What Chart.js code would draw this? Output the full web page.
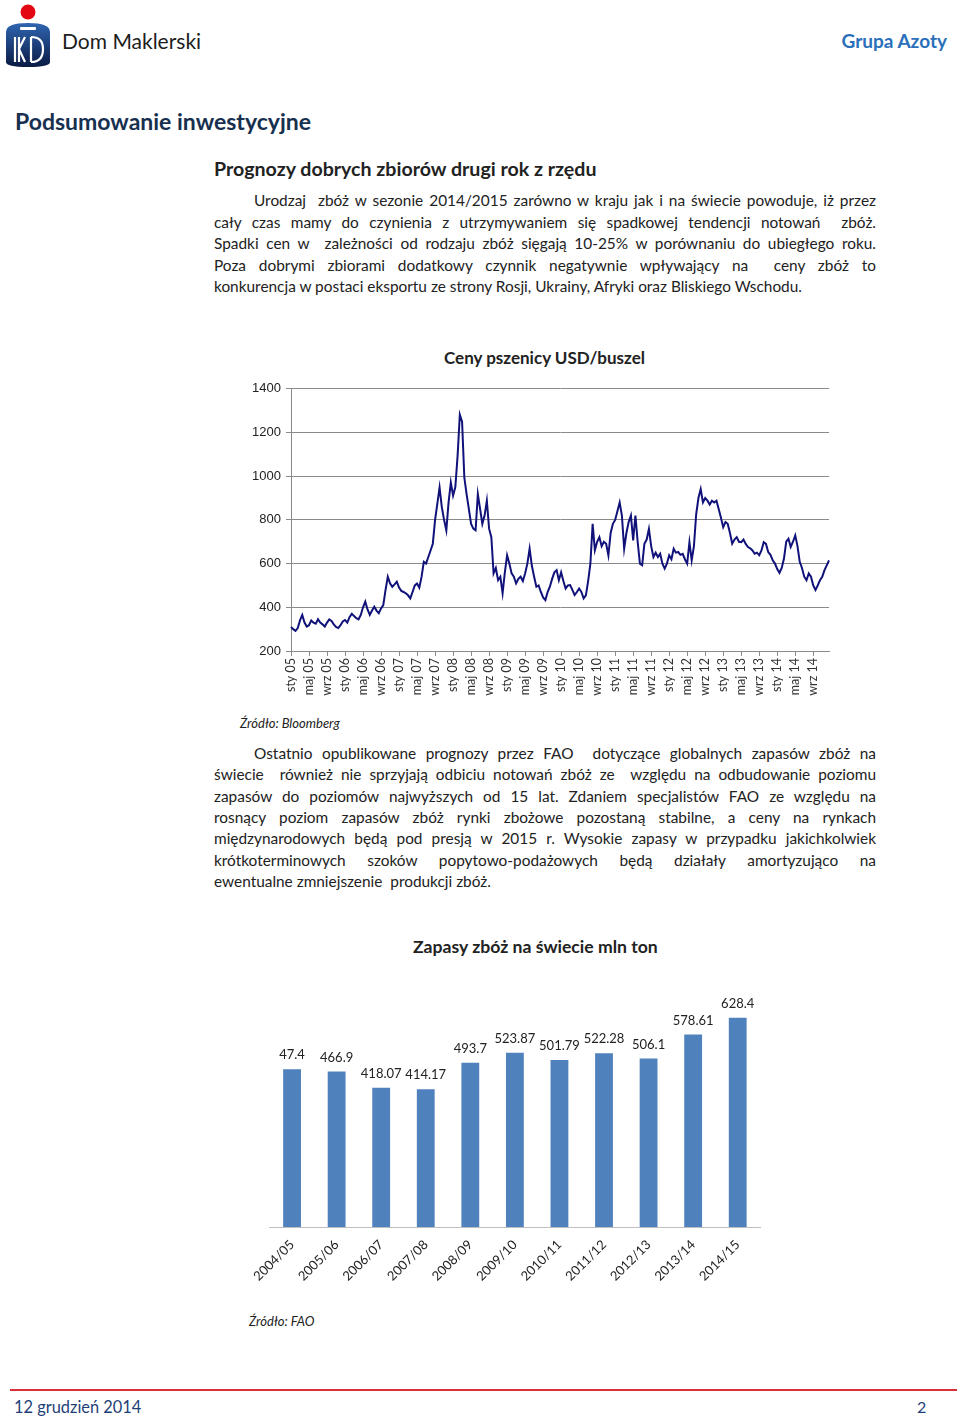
<!DOCTYPE html>
<html lang="pl">
<head>
<meta charset="utf-8">
<script src="https://cdn.jsdelivr.net/npm/chart.js@4.4.1/dist/chart.umd.min.js"></script>
<style>
  html, body { margin: 0; padding: 0; background: #fff; }
  body { width: 960px; height: 1419px; position: relative; overflow: hidden; font-family: Lato, "Open Sans", sans-serif; color: #222; }
  .abs { position: absolute; white-space: nowrap; }
  .para { position: absolute; left: 214px; width: 662px; font-size: 15.4px; line-height: 21.6px; color: #222; }
  .para div { text-align: justify; text-align-last: justify; white-space: nowrap; }
  .para div.first { padding-left: 40px; }
  .para div.last { text-align-last: left; }
  canvas { position: absolute; }
</style>
</head>
<body>

<!-- ─── HEADER ─────────────────────────────────────────────── -->
<svg class="abs" style="left:3px;top:2px" width="50" height="68" viewBox="0 0 50 68">
  <defs>
    <linearGradient id="pko" x1="0" y1="0" x2="0" y2="1">
      <stop offset="0" stop-color="#2f65b0"/>
      <stop offset="1" stop-color="#0a1a44"/>
    </linearGradient>
  </defs>
  <circle cx="25" cy="10" r="7.5" fill="#e30613"/>
  <path d="M3 30 Q3 21 25 21 Q47 21 47 30 L47 60 Q47 65 25 65 Q3 65 3 60 Z" fill="url(#pko)"/>
  <rect x="17" y="25" width="16" height="3" rx="1" fill="#fff"/>
  <path d="M12 35 L12 60 M16 35 L16 60 M16 47 L22 35 M16 47 L22 60 M28 35 L28 60 M28 35 Q40 35 40 47 Q40 60 28 60"
        stroke="#fff" stroke-width="2.2" fill="none"/>
</svg>
<div class="abs" style="left:62px;top:26px;font-family:Lato,sans-serif;font-size:21px;line-height:30px;color:#1d1d1d;">Dom Maklerski</div>
<div class="abs" style="right:13px;top:29px;font-family:Lato,sans-serif;font-weight:bold;font-size:19px;line-height:24px;color:#2a6fba;">Grupa Azoty</div>

<div class="abs" style="left:15px;top:107px;font-family:Lato,sans-serif;font-weight:bold;font-size:23px;line-height:28px;color:#17304f;">Podsumowanie inwestycyjne</div>
<div class="abs" style="left:214px;top:157px;font-family:Lato,sans-serif;font-weight:bold;font-size:19.6px;line-height:24px;color:#222;">Prognozy dobrych zbiorów drugi rok z rzędu</div>

<div class="para" style="top:190px;">
  <div class="first">Urodzaj&nbsp; zbóż w sezonie 2014/2015 zarówno w kraju jak i na świecie powoduje, iż przez</div>
  <div>cały czas mamy do czynienia z utrzymywaniem się spadkowej tendencji notowań&nbsp; zbóż.</div>
  <div>Spadki cen w&nbsp; zależności od rodzaju zbóż sięgają 10-25% w porównaniu do ubiegłego roku.</div>
  <div>Poza dobrymi zbiorami dodatkowy czynnik negatywnie wpływający na&nbsp; ceny zbóż to</div>
  <div class="last">konkurencja w postaci eksportu ze strony Rosji, Ukrainy, Afryki oraz Bliskiego Wschodu.</div>
</div>

<!-- ─── LINE CHART ─────────────────────────────────────────── -->
<div class="abs" style="left:444px;top:347px;font-family:Lato,sans-serif;font-weight:bold;font-size:17px;line-height:22px;color:#222;">Ceny pszenicy USD/buszel</div>
<canvas id="wheatChart" width="610" height="334" style="left:230px;top:376px;"></canvas>
<div class="abs" style="left:240px;top:715px;font-family:Lato,sans-serif;font-style:italic;font-size:13px;line-height:16px;color:#222;">Źródło: Bloomberg</div>

<div class="para" style="top:743px;line-height:21.35px;">
  <div class="first">Ostatnio opublikowane prognozy przez FAO&nbsp; dotyczące globalnych zapasów zbóż na</div>
  <div>świecie&nbsp; również nie sprzyjają odbiciu notowań zbóż ze&nbsp; względu na odbudowanie poziomu</div>
  <div>zapasów do poziomów najwyższych od 15 lat. Zdaniem specjalistów FAO ze względu na</div>
  <div>rosnący poziom zapasów zbóż rynki zbożowe pozostaną stabilne, a ceny na rynkach</div>
  <div>międzynarodowych będą pod presją w 2015 r. Wysokie zapasy w przypadku jakichkolwiek</div>
  <div>krótkoterminowych szoków popytowo-podażowych będą działały amortyzująco na</div>
  <div class="last">ewentualne zmniejszenie&nbsp; produkcji zbóż.</div>
</div>

<!-- ─── BAR CHART ──────────────────────────────────────────── -->
<div class="abs" style="left:413px;top:936px;font-family:Lato,sans-serif;font-weight:bold;font-size:17.6px;line-height:22px;color:#222;">Zapasy zbóż na świecie mln ton</div>
<canvas id="stocksChart" width="535" height="310" style="left:245px;top:980px;"></canvas>
<div class="abs" style="left:249px;top:1313px;font-family:Lato,sans-serif;font-style:italic;font-size:13px;line-height:16px;color:#222;">Źródło: FAO</div>

<!-- ─── FOOTER ─────────────────────────────────────────────── -->
<div class="abs" style="left:10px;top:1389px;width:947px;height:2px;background:#d9303a;"></div>
<div class="abs" style="left:14px;top:1396px;font-family:Lato,sans-serif;font-size:16.4px;line-height:22px;color:#1f3f78;">12 grudzień 2014</div>
<div class="abs" style="left:917px;top:1396px;font-family:Lato,sans-serif;font-size:16px;line-height:22px;color:#1f3f78;">2</div>

<script>
// ─── Data: wheat price (two readings per month) ───────────────────────────────
const wheat2005 = [310, 300, 292, 305, 340, 365, 330, 312, 318, 340, 330, 325, 345, 330, 322, 312, 330, 345, 338, 322, 310, 305, 318, 335];
const wheat2006 = [342, 330, 355, 370, 360, 350, 345, 365, 400, 426, 390, 365, 385, 403, 385, 373, 395, 410, 480, 540, 510, 494, 505, 517];
const wheat2007 = [490, 475, 470, 464, 455, 441, 470, 500, 509, 490, 539, 608, 600, 630, 660, 691, 800, 873, 948, 858, 800, 752, 880, 971];
const wheat2008 = [911, 950, 1092, 1282, 1250, 994, 918, 850, 782, 760, 752, 918, 850, 782, 820, 888, 760, 721, 555, 580, 524, 540, 464, 560];
const wheat2009 = [638, 600, 555, 540, 509, 530, 540, 520, 555, 600, 668, 590, 540, 494, 500, 470, 445, 433, 470, 494, 530, 560, 570, 524];
const wheat2010 = [560, 520, 486, 500, 502, 480, 456, 470, 486, 470, 441, 455, 520, 600, 782, 661, 700, 721, 680, 700, 691, 638, 740, 782];
const wheat2011 = [800, 840, 880, 820, 668, 740, 790, 820, 706, 820, 700, 600, 593, 691, 710, 759, 680, 630, 650, 630, 645, 600, 577, 600];
const wheat2012 = [638, 620, 668, 650, 653, 640, 645, 620, 600, 698, 615, 680, 827, 900, 941, 880, 900, 888, 870, 888, 880, 888, 850, 810];
const wheat2013 = [767, 790, 782, 740, 691, 710, 721, 700, 698, 710, 690, 676, 670, 660, 645, 650, 638, 660, 698, 690, 653, 640, 615, 600];
const wheat2014 = [575, 558, 580, 623, 700, 714, 676, 700, 729, 680, 608, 580, 540, 524, 555, 540, 500, 479, 500, 524, 540, 570, 592, 615];

const wheatYears  = ['05', '06', '07', '08', '09', '10', '11', '12', '13', '14'];
const monthNames  = ['sty', 'lut', 'mar', 'kwi', 'maj', 'cze', 'lip', 'sie', 'wrz', 'paź', 'lis', 'gru'];
const shownMonths = ['sty', 'maj', 'wrz'];   // every 4th month gets a tick label
const yTicks      = [200, 400, 600, 800, 1000, 1200, 1400];

// ─── Data: world grain stocks ─────────────────────────────────────────────────
const seasons     = ['2004/05', '2005/06', '2006/07', '2007/08', '2008/09', '2009/10', '2010/11', '2011/12', '2012/13', '2013/14', '2014/15'];
const stocks      = [474, 466.9, 418.07, 414.17, 493.7, 523.87, 501.79, 522.28, 506.1, 578.61, 628.4];
// printed labels as they appear in the source (first one is printed "47.4")
const stockLabels = ['47.4', '466.9', '418.07', '414.17', '493.7', '523.87', '501.79', '522.28', '506.1', '578.61', '628.4'];

Chart.defaults.animation = false;
Chart.defaults.devicePixelRatio = 1;

// ─── LINE CHART ──────────────────────────────────────────────────────────────
const wheatValues = [].concat(wheat2005, wheat2006, wheat2007, wheat2008, wheat2009,
                              wheat2010, wheat2011, wheat2012, wheat2013, wheat2014);
const wheatLabels = [];
wheatYears.forEach(y => {
    monthNames.forEach(m => {
        wheatLabels.push(m + ' ' + y);
        wheatLabels.push('');
    });
});

new Chart(document.getElementById('wheatChart'), {
    type: 'line',
    data: {
        labels: wheatLabels,
        datasets: [{
            data: wheatValues,
            borderColor: '#10127a',
            borderWidth: 2,
            pointRadius: 0,
            tension: 0,
            fill: false
        }]
    },
    options: {
        responsive: false,
        layout: { padding: { left: 0, right: 11, top: 3, bottom: 0 } },
        plugins: { legend: { display: false }, tooltip: { enabled: false } },
        scales: {
            x: {
                offset: false,
                afterFit: s => { s.height = 59; },
                border: { display: true, color: '#8a8a8a', width: 1 },
                grid: { drawOnChartArea: false, drawTicks: true, tickLength: 5, color: '#8a8a8a' },
                ticks: {
                    autoSkip: false,
                    minRotation: 90,
                    maxRotation: 90,
                    padding: 2,
                    color: '#333',
                    font: { family: 'Lato', size: 12.5 },
                    callback: function(val, i) {
                        const lbl = wheatLabels[i];
                        if (!lbl) return null;
                        return shownMonths.includes(lbl.split(' ')[0]) ? lbl : null;
                    }
                }
            },
            y: {
                min: yTicks[0],
                max: yTicks[yTicks.length - 1],
                afterFit: s => { s.width = 61; },
                afterBuildTicks: s => { s.ticks = yTicks.map(v => ({ value: v })); },
                border: { display: true, color: '#8a8a8a', width: 1 },
                grid: { color: '#8a8a8a', lineWidth: 1, tickLength: 5 },
                ticks: {
                    padding: 5,
                    color: '#222',
                    font: { family: 'Liberation Sans', size: 13 },
                    callback: v => String(v)
                }
            }
        }
    }
});

// ─── BAR CHART ───────────────────────────────────────────────────────────────
const barValueLabels = {
    id: 'barValueLabels',
    afterDatasetsDraw(chart) {
        const ctx  = chart.ctx;
        const meta = chart.getDatasetMeta(0);
        ctx.save();
        ctx.font = '13px Lato';
        ctx.fillStyle = '#222';
        ctx.textAlign = 'center';
        ctx.textBaseline = 'middle';
        meta.data.forEach((bar, i) => {
            ctx.fillText(stockLabels[i], bar.x, bar.y - 14);
        });
        ctx.restore();
    }
};

new Chart(document.getElementById('stocksChart'), {
    type: 'bar',
    data: {
        labels: seasons,
        datasets: [{
            data: stocks,
            backgroundColor: '#4f81bd',
            borderWidth: 0,
            categoryPercentage: 0.8,
            barPercentage: 0.5
        }]
    },
    options: {
        responsive: false,
        layout: { padding: { left: 20, right: 20, top: 14, bottom: 0 } },
        plugins: { legend: { display: false }, tooltip: { enabled: false } },
        scales: {
            x: {
                afterFit: s => { s.height = 63; },
                border: { display: true, color: '#bfbfbf', width: 1 },
                grid: { drawOnChartArea: false, drawTicks: false },
                ticks: {
                    minRotation: 45,
                    maxRotation: 45,
                    padding: 10,
                    color: '#222',
                    font: { family: 'Lato', size: 13 }
                }
            },
            y: {
                display: false,
                min: 0,
                max: 700
            }
        }
    },
    plugins: [barValueLabels]
});
</script>
</body>
</html>
